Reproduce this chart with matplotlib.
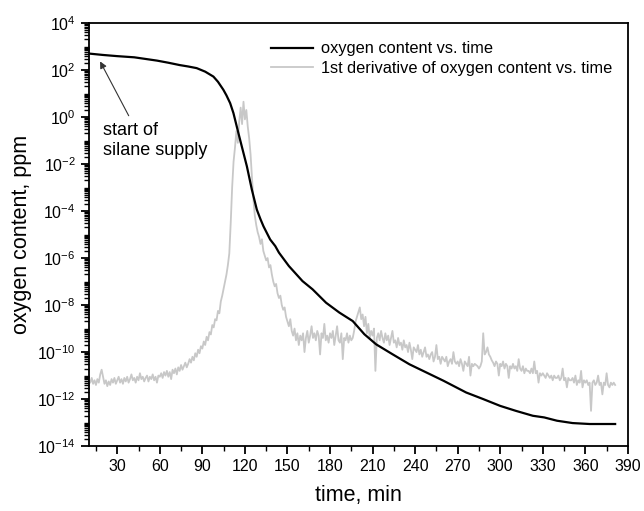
import numpy as np
import matplotlib
matplotlib.use('Agg')
import matplotlib.pyplot as plt
from matplotlib.ticker import LogLocator, MultipleLocator, NullFormatter

plt.rcParams['font.family'] = ['Liberation Sans', 'DejaVu Sans']
plt.rcParams['mathtext.fontset'] = 'custom'
plt.rcParams['mathtext.rm'] = 'Liberation Sans'
plt.rcParams['mathtext.it'] = 'Liberation Sans:italic'
plt.rcParams['mathtext.bf'] = 'Liberation Sans:bold'

# oxygen content (log10 ppm)
oxygen_time = [10, 20, 30, 42, 58, 66, 74, 80, 86, 92, 97.8, 101, 104.8, 107,
               109.6, 111.9, 115.4, 117.8, 121.4, 124.9, 128.4, 131, 133.1,
               137.8, 141.4, 144, 151, 160.6, 167.7, 177.2, 186.6, 196, 200.7,
               204.2, 212.5, 224, 236, 248, 260, 268, 276, 288, 300, 311, 323,
               331, 340, 351, 363, 381]
oxygen_log = [2.70, 2.64, 2.59, 2.54, 2.40, 2.31, 2.21, 2.15, 2.08, 1.93, 1.72,
              1.50, 1.16, 0.92, 0.59, 0.17, -0.68, -1.25, -2.10, -3.09, -3.94,
              -4.35, -4.65, -5.21, -5.49, -5.77, -6.34, -6.98, -7.33, -7.90,
              -8.32, -8.68, -9.00, -9.24, -9.67, -10.09, -10.52, -10.87,
              -11.22, -11.47, -11.72, -12.00, -12.29, -12.50, -12.71, -12.78,
              -12.92, -13.02, -13.06, -13.06]

# 1st derivative (log10), one value per minute from 10 to 381
deriv_start = 10
deriv_log = [
    -11.15, -11.30, -11.10, -11.35, -11.20, -11.40, -11.15, -11.30, -10.95, -10.75,
    -11.05, -11.35, -11.20, -11.45, -11.25, -11.40, -11.15, -11.30, -11.10, -11.35,
    -11.20, -11.05, -11.30, -11.15, -11.35, -11.10, -11.25, -11.05, -11.30, -11.15,
    -10.95, -11.20, -11.10, -11.30, -11.05, -11.20, -10.90, -11.15, -11.05, -11.25,
    -11.10, -11.00, -11.25, -11.05, -11.15, -10.95, -11.20, -11.05, -11.30, -11.00,
    -11.05, -10.90, -11.10, -10.85, -11.00, -10.80, -11.05, -10.85, -11.15, -10.75,
    -10.90, -10.70, -10.95, -10.65, -10.80, -10.55, -10.75, -10.60, -10.45, -10.65,
    -10.50, -10.30, -10.45, -10.20, -10.35, -10.05, -10.20, -9.90, -10.05, -9.75,
    -9.85, -9.55, -9.70, -9.35, -9.50, -9.15, -9.25, -8.85, -8.95, -8.60,
    -8.65, -8.25, -8.35, -7.85, -7.60, -7.30, -7.00, -6.70, -6.30, -5.80,
    -4.50, -3.00, -1.90, -1.30, -0.60, -1.10, -0.20, 0.40, -0.30, 0.65,
    -0.10, 0.30, -0.40, -0.90, -1.60, -2.60, -3.50, -4.20, -4.60, -4.90,
    -5.10, -5.40, -5.20, -5.70, -5.90, -6.10, -6.00, -6.40, -6.30, -6.70,
    -7.00, -7.20, -7.10, -7.50, -7.70, -7.60, -8.00, -8.20, -8.10, -8.50,
    -8.70, -8.90, -8.60, -9.10, -9.30, -9.00, -9.50, -9.20, -9.70, -9.30,
    -9.50, -9.20, -10.00, -9.40, -9.10, -9.60, -9.30, -8.90, -9.40, -9.20,
    -9.50, -9.10, -9.30, -10.10, -9.20, -9.40, -8.80, -9.50, -9.30, -9.60,
    -9.20, -9.40, -9.10, -9.70, -9.30, -8.90, -9.50, -9.60, -9.20, -10.30,
    -9.40, -9.50, -9.20, -9.60, -9.30, -9.50, -9.40, -9.10, -8.70, -8.50,
    -8.30, -8.10, -8.60, -8.40, -8.90, -8.50, -9.20, -8.80, -9.40, -9.10,
    -9.30, -9.00, -10.80, -9.40, -9.20, -9.50, -9.10, -9.40, -9.60, -9.20,
    -9.50, -9.30, -9.70, -9.40, -9.10, -9.60, -9.50, -9.80, -9.40, -9.70,
    -9.60, -9.90, -9.50, -9.80, -9.70, -10.00, -9.60, -9.90, -10.30, -9.80,
    -9.90, -10.00, -9.70, -10.10, -9.90, -10.20, -10.00, -9.80, -10.20, -10.10,
    -10.30, -10.10, -10.00, -10.40, -10.20, -9.70, -10.30, -10.20, -10.50, -10.20,
    -10.30, -10.40, -10.20, -10.60, -10.40, -10.30, -10.50, -10.00, -10.40, -10.50,
    -10.40, -10.60, -10.30, -10.50, -10.80, -10.40, -10.50, -10.60, -10.20, -11.00,
    -10.50, -10.60, -10.50, -10.55, -10.60, -10.70, -10.60, -10.40, -9.20, -10.10,
    -10.00, -9.80, -10.10, -10.20, -10.35, -10.45, -10.60, -10.40, -10.50, -11.00,
    -10.50, -10.60, -10.40, -10.70, -10.50, -10.60, -11.10, -10.60, -10.70, -10.50,
    -10.70, -10.60, -10.80, -10.30, -10.70, -10.80, -10.60, -10.90, -10.70, -10.80,
    -10.80, -10.90, -10.70, -10.90, -10.40, -10.90, -10.80, -11.30, -10.90, -11.00,
    -10.90, -11.00, -11.10, -10.90, -11.00, -11.10, -11.00, -11.20, -11.00, -11.10,
    -11.10, -11.00, -11.20, -11.10, -10.70, -11.20, -11.10, -11.50, -11.10, -11.20,
    -11.20, -11.10, -11.30, -11.00, -11.40, -11.20, -11.30, -10.80, -11.50, -11.20,
    -11.30, -11.20, -11.40, -11.30, -12.50, -11.30, -11.20, -11.40, -11.30, -11.00,
    -11.40, -11.30, -11.80, -11.30, -11.40, -10.90, -11.40, -11.50, -11.30, -11.40,
    -11.30, -11.40,
]
deriv_time = deriv_start + np.arange(len(deriv_log))

fig = plt.figure(figsize=(6.44, 5.11), dpi=100)
ax = fig.add_axes([0.138, 0.127, 0.837, 0.828])

ax.plot(deriv_time, 10.0 ** np.array(deriv_log), color='#c8c8c8', lw=1.3,
        label='1st derivative of oxygen content vs. time', zorder=2)
ax.plot(oxygen_time, 10.0 ** np.array(oxygen_log), color='black', lw=1.6,
        label='oxygen content vs. time', zorder=3)

ax.set_yscale('log')
ax.set_xlim(10, 390)
ax.set_ylim(1e-14, 1e4)
ax.xaxis.set_major_locator(MultipleLocator(30))
ax.xaxis.set_minor_locator(MultipleLocator(15))
ax.set_xticks(np.arange(30, 391, 30))
ax.yaxis.set_major_locator(LogLocator(base=100, numticks=20))
ax.yaxis.set_minor_locator(LogLocator(base=10, subs=np.arange(1, 10), numticks=100))
ax.yaxis.set_minor_formatter(NullFormatter())

ax.tick_params(axis='both', which='major', direction='out', length=6, width=1.3,
               labelsize=11.5, top=False, right=False)
ax.tick_params(axis='both', which='minor', direction='out', length=3.5, width=1.0,
               top=False, right=False)
for s in ax.spines.values():
    s.set_linewidth(1.3)

ax.set_xlabel('time, min', fontsize=15.5, labelpad=8)
ax.set_ylabel('oxygen content, ppm', fontsize=15.5, labelpad=4)

handles, labels = ax.get_legend_handles_labels()
ax.legend(handles[::-1], labels[::-1], loc='upper right', frameon=False,
          fontsize=11.8, handlelength=2.6, handletextpad=0.5, borderaxespad=0.2,
          labelspacing=0.3, bbox_to_anchor=(0.99, 0.98))

ax.annotate('', xy=(17, 10 ** 2.47), xytext=(39, 10 ** -0.05),
            arrowprops=dict(arrowstyle='-|>', color='#333333', lw=0.8,
                            mutation_scale=10))
ax.text(20, 10 ** -0.2, 'start of\nsilane supply', fontsize=13,
        va='top', ha='left', linespacing=1.25)

fig.savefig('out.png', dpi=100)
